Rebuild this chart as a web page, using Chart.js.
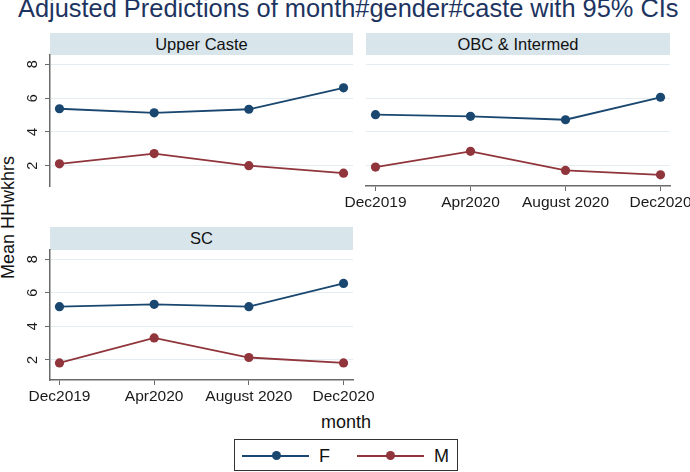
<!DOCTYPE html>
<html><head><meta charset="utf-8">
<script src="https://cdn.jsdelivr.net/npm/chart.js@4"></script>
<style>
html,body{margin:0;padding:0;width:690px;height:472px;overflow:hidden;background:#fff;font-family:"Liberation Sans",Arial,Helvetica,sans-serif;}
.abs{position:absolute;white-space:nowrap}
canvas{position:absolute}
.strip{position:absolute;background:#d8e5eb;color:#111;font-size:16.5px;text-align:center;line-height:22px;}
</style></head><body>
<div class="abs" style="left:18px;top:-7px;font-size:25.4px;line-height:30px;color:#1d3461">Adjusted Predictions of month#gender#caste with 95% CIs</div>
<div class="strip" style="left:50px;top:33px;width:303px;height:22px">Upper Caste</div>
<div class="strip" style="left:366px;top:33px;width:304px;height:22px">OBC &amp; Intermed</div>
<div class="strip" style="left:50px;top:227px;width:303px;height:23px;line-height:23px">SC</div>
<div class="abs" style="left:-52px;top:208px;width:120px;height:22px;line-height:22px;font-size:18px;text-align:center;color:#111;transform:rotate(-90deg)">Mean HHwkhrs</div>
<div class="abs" style="left:296px;top:411px;width:100px;height:22px;line-height:22px;font-size:18px;text-align:center;color:#111">month</div>

<canvas id="uc" width="360" height="142" style="left:0;top:50px"></canvas>
<canvas id="obc" width="370" height="190" style="left:330px;top:50px"></canvas>
<canvas id="sc" width="390" height="190" style="left:0;top:240px"></canvas>

<div class="abs" style="left:234px;top:439px;width:222px;height:30px;border:1px solid #333;background:#fff"></div>
<div class="abs" style="left:242px;top:455px;width:67px;height:1.5px;background:#1a476f"></div>
<div class="abs" style="left:271.5px;top:451.3px;width:9px;height:9px;border-radius:50%;background:#1a476f"></div>
<div class="abs" style="left:319px;top:445px;font-size:18px;line-height:22px;color:#111">F</div>
<div class="abs" style="left:357px;top:455px;width:67px;height:1.5px;background:#90353b"></div>
<div class="abs" style="left:385.5px;top:451.3px;width:9px;height:9px;border-radius:50%;background:#90353b"></div>
<div class="abs" style="left:434px;top:445px;font-size:18px;line-height:22px;color:#111">M</div>

<script>
const months = ['Dec2019', 'Apr2020', 'August 2020', 'Dec2020'];
const yTicks = [2, 4, 6, 8];
const ucF  = [5.37, 5.13, 5.34, 6.61];
const ucM  = [2.11, 2.72, 2.00, 1.56];
const obcF = [5.02, 4.92, 4.72, 6.05];
const obcM = [1.92, 2.85, 1.72, 1.46];
const scF  = [5.17, 5.31, 5.17, 6.56];
const scM  = [1.82, 3.31, 2.14, 1.82];

const NAVY = '#1a476f', MAROON = '#90353b';
const FONT = '"Liberation Sans", Arial, Helvetica, sans-serif';
const AXIS = '#6a6a6a';

// draws the y tick labels rotated 90° (Stata style) at the y scale's tick positions
const rotatedYLabels = {
  id: 'rotatedYLabels',
  afterDraw(chart, args, opts) {
    if (!opts.show) return;
    const s = chart.scales.y, ctx = chart.ctx;
    ctx.save();
    ctx.fillStyle = '#1a1a1a';
    ctx.font = '14.5px ' + FONT;
    ctx.textAlign = 'center';
    ctx.textBaseline = 'middle';
    s.ticks.forEach(t => {
      const y = s.getPixelForValue(t.value);
      ctx.save();
      ctx.translate(s.right - 17.5, y);
      ctx.rotate(-Math.PI / 2);
      ctx.fillText(String(t.value), 0, 0);
      ctx.restore();
    });
    ctx.restore();
  }
};

function ds(label, vals, color) {
  return {
    label, data: vals.map((v, i) => ({x: i, y: v})),
    borderColor: color, backgroundColor: color, borderWidth: 1.8,
    pointRadius: 4.6, pointHoverRadius: 4.6, pointBorderWidth: 0,
    clip: false, tension: 0
  };
}

function panel(id, F, M, o) {
  new Chart(document.getElementById(id), {
    type: 'line',
    data: {datasets: [ds('F', F, NAVY), ds('M', M, MAROON)]},
    plugins: [rotatedYLabels],
    options: {
      responsive: false, animation: false, events: [],
      layout: {padding: o.padding},
      plugins: {legend: {display: false}, tooltip: {enabled: false}, rotatedYLabels: {show: o.showY}},
      scales: {
        x: {
          type: 'linear', min: -0.1, max: 3.1, display: o.showX,
          afterBuildTicks: s => { s.ticks = months.map((m, i) => ({value: i})); },
          ticks: {callback: v => months[v], font: {size: 15.5, family: FONT}, color: '#1a1a1a',
                  padding: 2, autoSkip: false, minRotation: 0, maxRotation: 0},
          grid: {drawOnChartArea: false, drawTicks: true, tickLength: 5, tickColor: AXIS, tickWidth: 1},
          border: {display: true, color: AXIS, width: 1.5},
          afterFit: s => { if (o.showX) s.height = 40; }
        },
        y: {
          type: 'linear', min: 0.8, max: 8.55,
          afterBuildTicks: s => { s.ticks = yTicks.map(v => ({value: v})); },
          ticks: {display: false},
          grid: {color: '#e3edf1', lineWidth: 1, drawTicks: o.showY, tickLength: o.showY ? 5 : 0,
                 tickColor: AXIS, tickWidth: 1},
          border: {display: o.showY, color: AXIS, width: 1.5},
          afterFit: s => { s.width = o.showY ? 50 : 0; }
        }
      }
    }
  });
}

panel('uc', ucF, ucM, {showX: false, showY: true, padding: {top: 5, right: 7, bottom: 6, left: 0}});
panel('obc', obcF, obcM, {showX: true, showY: false, padding: {top: 5, right: 30, bottom: 14, left: 36}});
panel('sc', scF, scM, {showX: true, showY: true, padding: {top: 10, right: 37, bottom: 10, left: 0}});
</script>
</body></html>
